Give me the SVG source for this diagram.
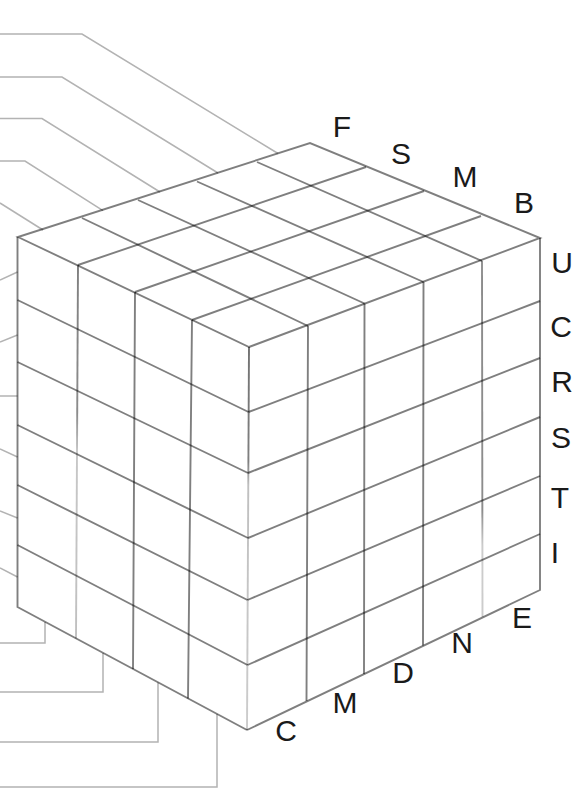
<svg xmlns="http://www.w3.org/2000/svg" width="584" height="789" viewBox="0 0 584 789">
<style>
.g{fill:none;stroke:#000;stroke-opacity:0.5;stroke-width:1.9}
.ld{fill:none;stroke:#b3b3b3;stroke-width:1.5}
.lb{font-family:"Liberation Sans",Arial,sans-serif;font-size:30px;fill:#1a1a1a;text-anchor:middle}
</style>
<defs>
<linearGradient id="gFront" gradientUnits="userSpaceOnUse" x1="0" y1="347" x2="0" y2="730">
<stop offset="0" stop-color="#000" stop-opacity="0.55"/>
<stop offset="0.3" stop-color="#000" stop-opacity="0.5"/>
<stop offset="0.36" stop-color="#000" stop-opacity="0.25"/>
<stop offset="1" stop-color="#000" stop-opacity="0.2"/>
</linearGradient>
<linearGradient id="gC1" gradientUnits="userSpaceOnUse" x1="0" y1="265" x2="0" y2="638">
<stop offset="0" stop-color="#000" stop-opacity="0.5"/>
<stop offset="0.4" stop-color="#000" stop-opacity="0.45"/>
<stop offset="0.5" stop-color="#000" stop-opacity="0.22"/>
<stop offset="1" stop-color="#000" stop-opacity="0.25"/>
</linearGradient>
<linearGradient id="gC8" gradientUnits="userSpaceOnUse" x1="0" y1="261" x2="0" y2="617">
<stop offset="0" stop-color="#000" stop-opacity="0.45"/>
<stop offset="0.7" stop-color="#000" stop-opacity="0.45"/>
<stop offset="0.8" stop-color="#000" stop-opacity="0.2"/>
<stop offset="1" stop-color="#000" stop-opacity="0.2"/>
</linearGradient>
</defs>
<rect width="584" height="789" fill="#fff"/>
<g id="connectors">
<polyline class="ld" points="0,34 82,34 278,153.5"/>
<polyline class="ld" points="0,77 62,77 218,173"/>
<polyline class="ld" points="0,118.5 42,118.5 160,192"/>
<polyline class="ld" points="0,161 25,161 103,210.6"/>
<polyline class="ld" points="0,203 43,230"/>
<line class="ld" x1="17.5" y1="272" x2="0" y2="280"/>
<line class="ld" x1="17.5" y1="335" x2="0" y2="342"/>
<line class="ld" x1="17.5" y1="396" x2="0" y2="396"/>
<line class="ld" x1="17.5" y1="457" x2="0" y2="449"/>
<line class="ld" x1="17.5" y1="518" x2="0" y2="511"/>
<line class="ld" x1="17.5" y1="577" x2="0" y2="568"/>
<polyline class="ld" points="45,622 45,643 0,643"/>
<polyline class="ld" points="103,653 103,692 0,692"/>
<polyline class="ld" points="158,682.4 158,742 0,742"/>
<polyline class="ld" points="217,714 217,787 0,787"/>
</g>
<g id="top-face">
<polygon class="g" points="249,347 540,238 310,143 18,237"/>
<path class="g" d="M308,326 L82,218 M364.5,303.5 L138,200 M423.5,282 L197,181.5 M482,261 L257,162"/>
<path class="g" d="M192,320 L481,216 M135,292 L424,191 M78,265 L366,167"/>
</g>
<g id="left-face">
<path class="g" d="M17.5,237 L17.5,607 L247,730"/>
<path class="g" d="M78,265 L76,638.5" style="stroke:url(#gC1);stroke-opacity:1"/>
<path class="g" d="M135,292 L133,669 M192,320 L188,698.5"/>
<path class="g" d="M17.5,300 L248.5,412 M17.5,362 L248,473 M17.5,425 L248,538 M17.5,485 L247.5,600 M17.5,545 L247.5,665"/>
</g>
<g id="right-face">
<path class="g" d="M249,347 L247,730" style="stroke:url(#gFront);stroke-opacity:1"/>
<path class="g" d="M247,730 L540,590 L540,238"/>
<path class="g" d="M308,326 L306.5,701 M364.5,303.5 L364,674 M423.5,282 L423,645.5"/>
<path class="g" d="M482,261 L482.5,617" style="stroke:url(#gC8);stroke-opacity:1"/>
<path class="g" d="M248.5,412 L540,301 M248,473 L540,358 M248,538 L540,417 M247.5,600 L540,476 M247.5,665 L540,534"/>
</g>
<g id="labels" class="lb">
<text x="342" y="137">F</text>
<text x="401" y="164">S</text>
<text x="465" y="187">M</text>
<text x="524" y="213">B</text>
<text x="562" y="273">U</text>
<text x="561" y="337">C</text>
<text x="562" y="392">R</text>
<text x="561" y="448">S</text>
<text x="560" y="508">T</text>
<text x="555" y="563">I</text>
<text x="522" y="628">E</text>
<text x="462" y="653">N</text>
<text x="403" y="683">D</text>
<text x="345" y="713">M</text>
<text x="286" y="741">C</text>
</g>
</svg>
